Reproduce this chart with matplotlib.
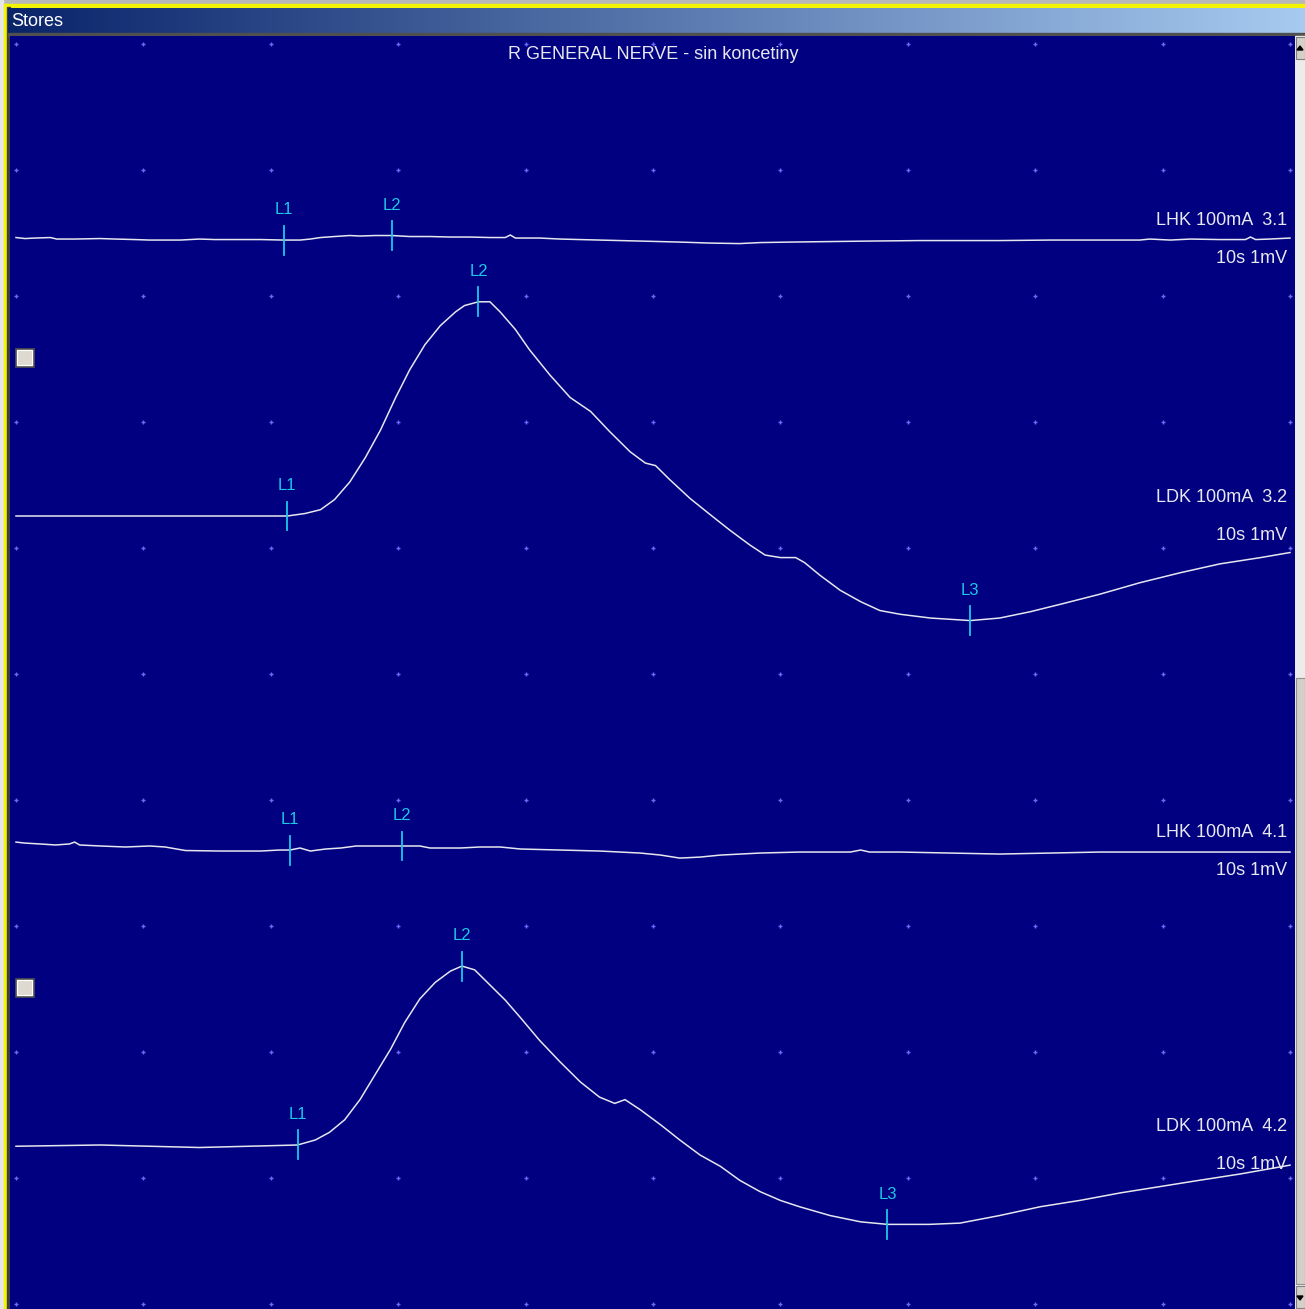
import numpy as np
import matplotlib
matplotlib.use("Agg")
import matplotlib.pyplot as plt
from matplotlib.patches import Rectangle, Polygon
from matplotlib.colors import LinearSegmentedColormap

plt.rcParams['font.family'] = ['Liberation Sans', 'DejaVu Sans']

# ---------------------------------------------------------------- data
# time axis in seconds (10 s / division), amplitude in mV (1 mV / division)
title = "R GENERAL NERVE - sin koncetiny"
trace_names = ["LHK 100mA  3.1", "LDK 100mA  3.2", "LHK 100mA  4.1", "LDK 100mA  4.2"]
scale_label = "10s 1mV"
# vertical position of every trace baseline, in divisions from the top
baselines = [1.548, 3.746, 6.405, 8.738]

t1 = [0.0, 0.7, 1.5, 2.7, 3.2, 4.6, 6.6, 7.8, 9.3, 10.5, 12.9, 14.4, 15.6, 17.6,
      19.2, 21.0, 22.3, 23.1, 23.9, 25.0, 26.2, 27.0, 28.2, 29.5, 30.9, 32.5,
      34.1, 35.6, 37.2, 38.4, 38.8, 39.2, 41.1, 42.7, 45.8, 49.0, 52.1, 54.5,
      56.8, 58.4, 60.8, 63.9, 67.0, 71.0, 74.1, 77.2, 81.2, 85.1, 88.2, 89.0,
      90.6, 92.2, 94.5, 96.5, 96.9, 97.3, 98.4, 100.0]
v1 = [0.012, 0.004, 0.008, 0.012, 0.0, 0.0, 0.004, 0.0, -0.004, -0.008, -0.008,
      0.0, -0.004, -0.004, -0.004, -0.008, -0.008, 0.0, 0.012, 0.020, 0.028,
      0.024, 0.028, 0.028, 0.020, 0.020, 0.016, 0.016, 0.012, 0.012, 0.032,
      0.008, 0.008, 0.0, -0.008, -0.016, -0.024, -0.032, -0.036, -0.028, -0.024,
      -0.020, -0.016, -0.012, -0.012, -0.012, -0.008, -0.008, -0.008, 0.0,
      -0.008, 0.0, -0.004, -0.004, 0.016, -0.004, 0.0, 0.008]

t2 = [0.0, 6.6, 14.4, 21.3, 22.7, 23.9, 25.0, 26.2, 27.4, 28.6, 29.8, 30.9, 32.1,
      33.3, 34.5, 35.2, 36.3, 37.2, 38.0, 39.2, 40.3, 41.9, 43.5, 45.1, 46.6,
      48.2, 49.4, 50.2, 51.3, 52.9, 54.5, 56.0, 57.6, 58.8, 60.0, 61.2, 61.9,
      63.1, 64.7, 66.3, 67.8, 69.4, 71.8, 74.9, 77.2, 79.6, 82.0, 85.1, 88.2,
      91.4, 94.5, 97.7, 100.0]
v2 = [0.0, 0.0, 0.0, 0.0, 0.02, 0.05, 0.13, 0.27, 0.46, 0.68, 0.94, 1.16, 1.36,
      1.51, 1.62, 1.67, 1.70, 1.70, 1.62, 1.48, 1.32, 1.12, 0.94, 0.83, 0.67,
      0.51, 0.42, 0.40, 0.29, 0.14, 0.01, -0.11, -0.23, -0.31, -0.33, -0.33,
      -0.37, -0.47, -0.59, -0.68, -0.75, -0.78, -0.81, -0.83, -0.81, -0.76,
      -0.70, -0.62, -0.53, -0.45, -0.38, -0.33, -0.29]

t3 = [0.0, 0.7, 1.9, 3.1, 4.2, 4.6, 5.0, 6.6, 8.6, 10.5, 11.7, 13.3, 16.0, 19.2,
      20.7, 21.5, 22.3, 23.1, 24.3, 25.5, 26.7, 28.6, 30.3, 31.7, 32.5, 33.7,
      34.9, 36.4, 38.0, 39.6, 42.7, 45.8, 49.0, 50.6, 52.1, 53.7, 55.3, 58.4,
      61.5, 65.5, 66.3, 67.0, 69.4, 73.3, 77.2, 81.2, 85.1, 89.0, 92.9, 100.0]
v3 = [0.071, 0.063, 0.056, 0.048, 0.056, 0.071, 0.048, 0.040, 0.032, 0.040,
      0.032, 0.004, 0.0, 0.0, 0.008, 0.008, 0.024, 0.0, 0.016, 0.024, 0.040,
      0.040, 0.040, 0.040, 0.024, 0.024, 0.024, 0.032, 0.032, 0.016, 0.008,
      0.0, -0.016, -0.032, -0.056, -0.048, -0.032, -0.016, -0.008, -0.008,
      0.008, -0.008, -0.008, -0.016, -0.024, -0.016, -0.008, -0.008, -0.008,
      -0.008]

t4 = [0.0, 6.6, 14.4, 22.1, 23.5, 24.6, 25.8, 27.0, 28.2, 29.4, 30.5, 31.7, 32.9,
      34.1, 35.0, 36.0, 37.2, 38.4, 39.6, 41.1, 42.7, 44.3, 45.8, 47.0, 47.8,
      49.0, 50.6, 52.1, 53.7, 55.3, 56.8, 58.4, 60.0, 61.5, 63.9, 66.3, 68.4,
      71.7, 74.1, 77.2, 80.4, 83.5, 86.7, 89.8, 92.9, 96.1, 100.0]
v4 = [-0.01, 0.0, -0.02, 0.0, 0.04, 0.10, 0.20, 0.36, 0.56, 0.76, 0.97, 1.16,
      1.29, 1.38, 1.42, 1.39, 1.27, 1.15, 1.01, 0.83, 0.66, 0.50, 0.38, 0.33,
      0.36, 0.28, 0.16, 0.04, -0.08, -0.17, -0.28, -0.37, -0.44, -0.49, -0.56,
      -0.61, -0.63, -0.63, -0.62, -0.56, -0.49, -0.44, -0.38, -0.33, -0.28,
      -0.23, -0.16]

# cursor names and positions (s) for each trace
cursor_names = [["L1", "L2"], ["L1", "L2", "L3"], ["L1", "L2"], ["L1", "L2", "L3"]]
cursor_times = [[21.0, 29.5], [21.3, 36.3, 74.9], [21.5, 30.3], [22.1, 35.0, 68.4]]

times = [t1, t2, t3, t4]
values = [v1, v2, v3, v4]

# ---------------------------------------------------------------- styling
W, H = 1305, 1309
BG = "#000080"
TRACE = "#e6e6ee"
CURSOR = "#1cc8e6"
DOT = "#6a6af8"
TEXT = "#e8e8f0"

fig = plt.figure(figsize=(W / 100, H / 100), dpi=100)

# window frame drawn in pixel space
frame = fig.add_axes([0, 0, 1, 1])
frame.set_xlim(0, W)
frame.set_ylim(H, 0)
frame.axis("off")
frame.add_patch(Rectangle((0, 0), W, H, color="#d4d0c8", zorder=0))
frame.add_patch(Rectangle((0, 0), W, 3, color="#b8b8b8", zorder=1))
frame.add_patch(Rectangle((0, 4), W, 3, color="#f4f400", zorder=1))
frame.add_patch(Rectangle((0, 0), 3, H, color="#e6e6e6", zorder=1))
frame.add_patch(Rectangle((4, 4), 3, H, color="#f4f400", zorder=1))
frame.add_patch(Rectangle((7, 7), 3, H, color="#404040", zorder=1))
grad = np.linspace(0, 1, 256)[None, :]
cap_cmap = LinearSegmentedColormap.from_list("cap", ["#0a246a", "#a6caf0"])
frame.imshow(grad, cmap=cap_cmap, extent=(8, W, 34, 8), aspect="auto", zorder=2)
frame.add_patch(Rectangle((8, 33), W, 3, color="#505050", zorder=3))
frame.text(11, 21, "Stores", color="white", fontsize=13, va="center", ha="left", zorder=4)
# scrollbar
frame.add_patch(Rectangle((1295, 36), 10, H - 36, color="#ececec", zorder=3))
frame.add_patch(Rectangle((1296, 678), 9, 606, facecolor="#d4d0c8", edgecolor="#909090", lw=0.8, zorder=4))
frame.add_patch(Rectangle((1296, 37), 9, 22, facecolor="#d4d0c8", edgecolor="#808080", lw=0.8, zorder=4))
frame.add_patch(Polygon([[1300, 46], [1303, 50], [1297, 50]], color="black", zorder=5))
frame.add_patch(Rectangle((1296, 1286), 9, 22, facecolor="#d4d0c8", edgecolor="#808080", lw=0.8, zorder=4))
frame.add_patch(Polygon([[1300, 1300], [1303, 1296], [1297, 1296]], color="black", zorder=5))

# oscilloscope panel
x_left, x_right, y_top, y_bot = 10, 1295, 36, 1309
ax = fig.add_axes([x_left / W, 1 - y_bot / H, (x_right - x_left) / W, (y_bot - y_top) / H])
ax.set_facecolor(BG)
px_per_div_x = 127.4
px_per_div_y = 126.0
ax.set_xlim(-(16 - x_left) / px_per_div_x * 10, (x_right - 16) / px_per_div_x * 10)
ax.set_ylim((y_bot - 44) / px_per_div_y, -(44 - y_top) / px_per_div_y)
for s in ax.spines.values():
    s.set_visible(False)
ax.set_xticks([])
ax.set_yticks([])

# dotted graticule
gx, gy = np.meshgrid(np.arange(0, 101, 10), np.arange(0, 11, 1))
ax.plot(gx.ravel(), gy.ravel(), linestyle="none", marker="+", ms=3.5, mew=1.0, color=DOT, zorder=1)

ax.text(50.0, 0.08, title, color=TEXT, fontsize=13, ha="center", va="center", zorder=5)

for base, t, v, name, cn, ct in zip(baselines, times, values, trace_names, cursor_names, cursor_times):
    t = np.asarray(t)
    v = np.asarray(v)
    ax.plot(t, base - v, color=TRACE, lw=1.1, zorder=3, solid_joinstyle="miter")
    for lab, tc in zip(cn, ct):
        yc = base - np.interp(tc, t, v)
        ax.plot([tc, tc], [yc - 0.115, yc + 0.115], color=CURSOR, lw=1.3, zorder=4)
        ax.text(tc, yc - 0.24, lab, color=CURSOR, fontsize=12, ha="center", va="center", zorder=5)
    ax.text(99.8, base - 0.145, name, color=TEXT, fontsize=13, ha="right", va="center", zorder=5)
    ax.text(99.8, base + 0.155, scale_label, color=TEXT, fontsize=13, ha="right", va="center", zorder=5)

# channel selector buttons, on a transparent overlay in pixel space
over = fig.add_axes([0, 0, 1, 1])
over.set_xlim(0, W)
over.set_ylim(H, 0)
over.axis("off")
over.patch.set_alpha(0)
for yb in [349, 979]:
    over.add_patch(Rectangle((16, yb), 18, 18, facecolor="#d4d0c8", edgecolor="#505050", lw=1.2))
    over.add_patch(Rectangle((17, yb + 1), 15, 15, facecolor="#dedad2", edgecolor="#ffffff", lw=0.8))

fig.savefig("out.png", dpi=100)
